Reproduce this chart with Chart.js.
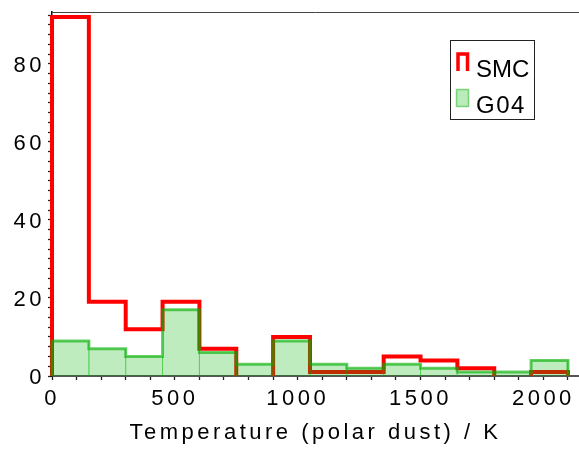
<!DOCTYPE html>
<html>
<head>
<meta charset="utf-8">
<script src="https://cdn.jsdelivr.net/npm/chart.js@4"></script>
<style>
  html, body { margin: 0; padding: 0; background: #fff; }
  #wrap { width: 579px; height: 450px; position: relative; }
  canvas { display: block; }
</style>
</head>
<body>
<div id="wrap"><canvas id="c" width="579" height="450" style="width:579px;height:450px"></canvas></div>
<script>
// Histogram bins (K) and counts per bin
const binEdges = [0, 150, 300, 450, 600, 750, 900, 1050, 1200, 1350, 1500, 1650, 1800, 1950, 2100];
const smcCounts = [92, 19, 12, 19, 7, 0, 10, 1, 1, 5, 4, 2, 0, 1];
const g04Counts = [9, 7, 5, 17, 6, 3, 9, 3, 2, 3, 2, 1, 1, 4];
const seriesNames = ['SMC', 'G04'];
const xTickLabels = [0, 500, 1000, 1500, 2000];
const yTickLabels = [0, 20, 40, 60, 80];
const xMinorStep = 100;
const yMinorStep = 2.5;
const xTitle = 'Temperature (polar dust) / K';

const FONT = '"Liberation Sans", Arial, sans-serif';

// Outer envelope of a histogram: up from zero, across each bin, back down
function stepOutline(counts) {
  const pts = [{ x: binEdges[0], y: 0 }];
  counts.forEach((v, i) => {
    pts.push({ x: binEdges[i], y: v }, { x: binEdges[i + 1], y: v });
  });
  pts.push({ x: binEdges[counts.length], y: 0 });
  return pts;
}

// Every bin traced as its own box so the inner bin edges show
function binBoxes(counts) {
  const pts = [];
  counts.forEach((v, i) => {
    pts.push({ x: binEdges[i], y: 0 }, { x: binEdges[i], y: v },
             { x: binEdges[i + 1], y: v }, { x: binEdges[i + 1], y: 0 });
  });
  return pts;
}

// Leave out stretches that run along the zero line (the axis covers them)
const hideBaseline = {
  borderColor: ctx => (ctx.p0.parsed.y === 0 && ctx.p1.parsed.y === 0) ? 'rgba(0,0,0,0)' : undefined
};

function ticksEvery(step, lo, hi) {
  const out = [];
  for (let v = lo; v <= hi + 1e-9; v += step) out.push({ value: Math.round(v * 1000) / 1000 });
  return out;
}

const spacing = {
  id: 'spacing',
  beforeDraw(chart) { chart.ctx.letterSpacing = '3.5px'; },
  afterDraw(chart) { chart.ctx.letterSpacing = '0px'; }
};

const frameTop = {
  id: 'frameTop',
  afterDraw(chart) {
    const { ctx, chartArea: a } = chart;
    ctx.save();
    ctx.strokeStyle = '#444';
    ctx.lineWidth = 1;
    ctx.beginPath();
    ctx.moveTo(a.left, a.top + 0.5);
    ctx.lineTo(a.right, a.top + 0.5);
    ctx.stroke();
    ctx.restore();
  }
};

const boxLegend = {
  id: 'boxLegend',
  afterDraw(chart) {
    const ctx = chart.ctx;
    const bx = 450.5, by = 40.5, bw = 84, bh = 79;
    ctx.save();
    ctx.letterSpacing = '0px';
    ctx.fillStyle = '#fff';
    ctx.fillRect(bx, by, bw, bh);
    ctx.strokeStyle = '#222';
    ctx.lineWidth = 1;
    ctx.strokeRect(bx, by, bw, bh);

    // SMC: open step symbol
    ctx.strokeStyle = '#ff0000';
    ctx.lineWidth = 3.5;
    ctx.lineJoin = 'miter';
    ctx.beginPath();
    ctx.moveTo(458, 71);
    ctx.lineTo(458, 54);
    ctx.lineTo(467.5, 54);
    ctx.lineTo(467.5, 71);
    ctx.stroke();

    // G04: filled bin symbol
    ctx.fillStyle = 'rgba(0,180,0,0.27)';
    ctx.fillRect(456.5, 89.5, 12, 17);
    ctx.strokeStyle = 'rgba(0,170,0,0.45)';
    ctx.lineWidth = 1.5;
    ctx.strokeRect(456.5, 89.5, 12, 17);

    ctx.fillStyle = '#000';
    ctx.font = '24px ' + FONT;
    ctx.textBaseline = 'alphabetic';
    ctx.textAlign = 'left';
    ctx.fillText(seriesNames[0], 476, 77);
    ctx.letterSpacing = '1.5px';
    ctx.fillText(seriesNames[1], 476, 113);
    ctx.restore();
  }
};

new Chart(document.getElementById('c'), {
  type: 'line',
  data: {
    datasets: [
      {
        label: seriesNames[0],
        data: stepOutline(smcCounts),
        borderColor: '#ff0000',
        borderWidth: 4,
        borderJoinStyle: 'miter',
        pointRadius: 0,
        fill: false,
        clip: false,
        order: 3,
        segment: hideBaseline
      },
      {
        label: seriesNames[1],
        data: binBoxes(g04Counts),
        borderColor: 'rgba(0,180,0,0.22)',
        borderWidth: 1,
        backgroundColor: 'rgba(0,180,0,0.25)',
        pointRadius: 0,
        fill: 'origin',
        clip: false,
        order: 2,
        segment: hideBaseline
      },
      {
        label: seriesNames[1] + ' outline',
        data: stepOutline(g04Counts),
        borderColor: 'rgba(0,175,0,0.6)',
        borderWidth: 3,
        borderJoinStyle: 'miter',
        pointRadius: 0,
        fill: false,
        clip: false,
        order: 1,
        segment: hideBaseline
      }
    ]
  },
  options: {
    responsive: false,
    animation: false,
    devicePixelRatio: 1,
    layout: { padding: { top: 12, right: 0, left: 0, bottom: 0 } },
    elements: { line: { tension: 0 } },
    plugins: {
      legend: { display: false },
      tooltip: { enabled: false }
    },
    scales: {
      x: {
        type: 'linear',
        min: 0,
        max: 2145,
        z: 1,
        afterBuildTicks: s => { s.ticks = ticksEvery(xMinorStep, 0, binEdges[binEdges.length - 1]); },
        afterFit: s => { s.height = 74; s.paddingLeft = 0; s.paddingRight = 0; },
        ticks: {
          autoSkip: false,
          maxRotation: 0,
          padding: 6,
          color: '#000',
          font: { family: FONT, size: 22 },
          callback: v => xTickLabels.includes(v) ? String(v) : ''
        },
        grid: { display: true, drawOnChartArea: false, tickLength: 4, tickColor: '#222', tickWidth: 1.3 },
        border: { display: true, color: '#555', width: 2 },
        title: {
          display: true,
          text: xTitle,
          color: '#000',
          font: { family: FONT, size: 22 },
          padding: { top: 0, bottom: 4 }
        }
      },
      y: {
        type: 'linear',
        min: 0,
        max: 93.3,
        z: 1,
        afterBuildTicks: s => { s.ticks = ticksEvery(yMinorStep, 0, 92.5); },
        afterFit: s => { s.width = 52; s.paddingTop = 0; s.paddingBottom = 0; },
        ticks: {
          autoSkip: false,
          padding: 3,
          labelOffset: 2,
          color: '#000',
          font: { family: FONT, size: 22 },
          callback: v => yTickLabels.includes(v) ? String(v) : ''
        },
        grid: { display: true, drawOnChartArea: false, tickLength: 4, tickColor: '#222', tickWidth: 1.3 },
        border: { display: true, color: '#111', width: 1.5 }
      }
    }
  },
  plugins: [spacing, frameTop, boxLegend]
});
</script>
</body>
</html>
